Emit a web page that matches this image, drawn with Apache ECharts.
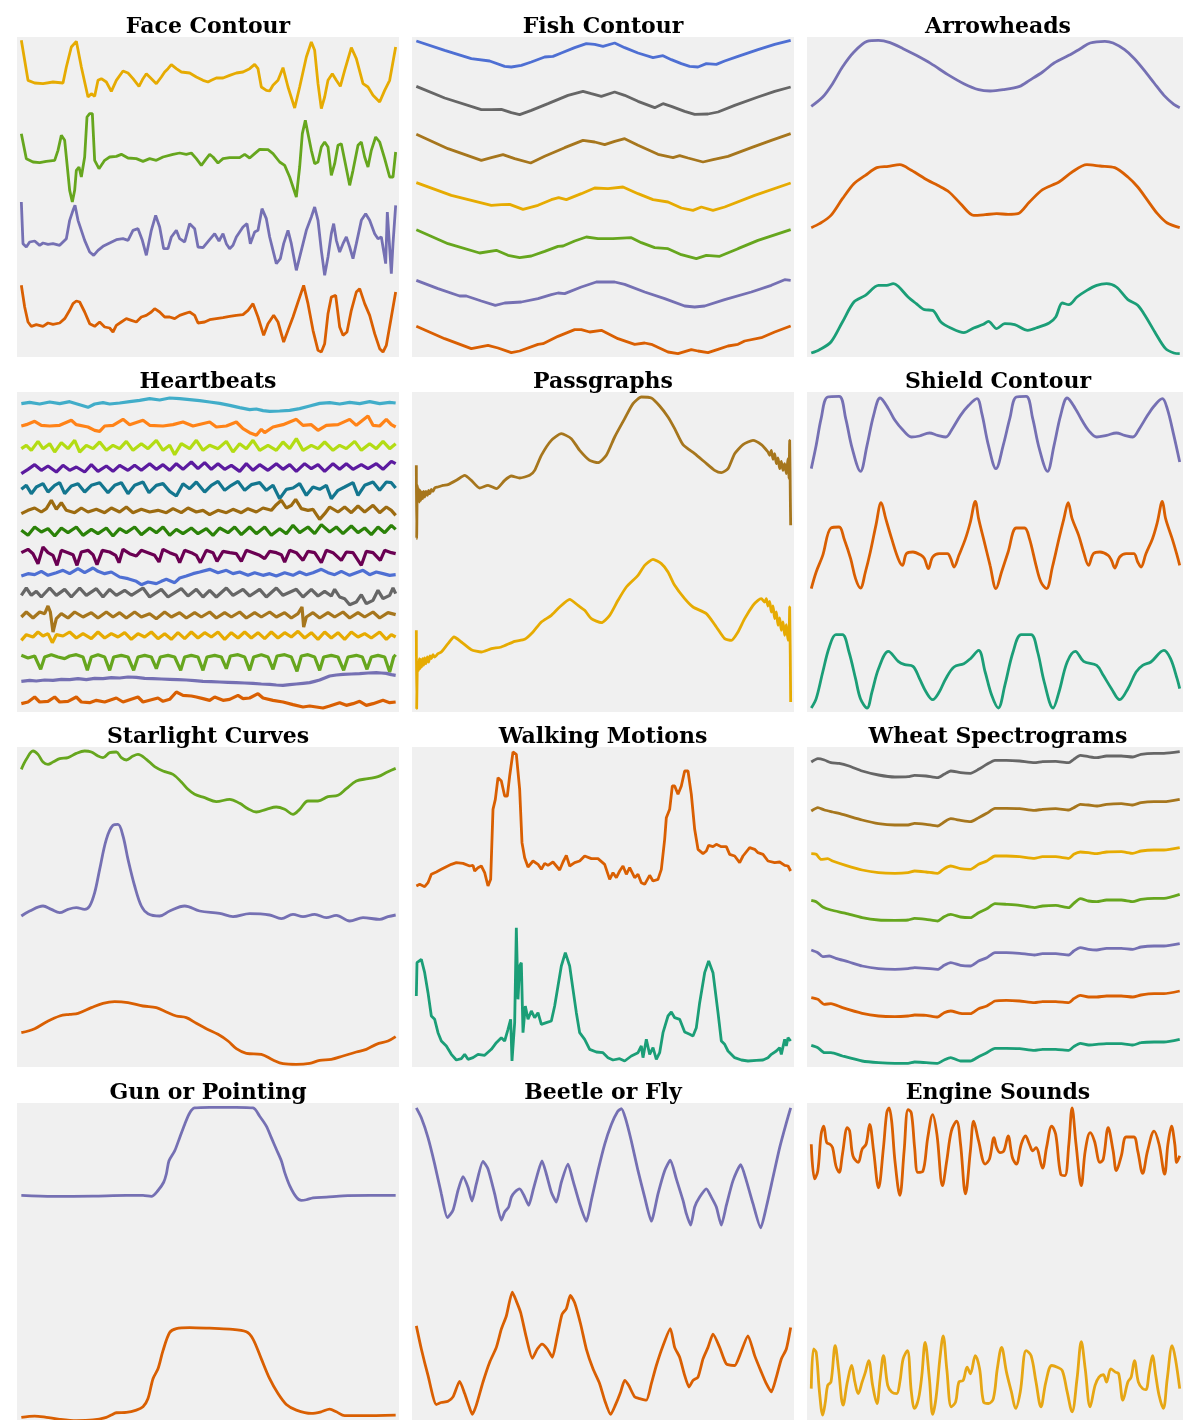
<!DOCTYPE html>
<html>
<head>
<meta charset="utf-8">
<title>Time series datasets</title>
<script src="https://cdn.jsdelivr.net/npm/echarts@6/dist/echarts.min.js"></script>
<style>
  html, body { margin: 0; padding: 0; background: #ffffff; }
  #chart { width: 1183px; height: 1420px; }
</style>
</head>
<body>
<div id="chart"></div>
<script>
// Each series is a list of [t, value] samples. t runs on a shared time scale,
// values are amplitudes on a 0..960 scale per panel (classes stacked with offsets).

// ---- Face Contour ----
const faceA = [[35,950],[55,830],[75,822],[100,820],[130,825],[160,822],[170,870],[185,930],[200,947],[215,870],[235,780],[245,790],[255,782],[265,830],[275,835],[290,825],[305,797],[320,830],[340,858],[355,852],[370,835],[388,812],[400,835],[410,850],[420,840],[440,820],[455,840],[465,855],[475,865],[485,877],[500,865],[515,855],[540,852],[560,840],[580,830],[595,825],[605,830],[620,837],[640,837],[660,845],[680,852],[700,855],[720,865],[735,878],[745,865],[755,810],[770,800],[780,798],[790,815],[805,830],[820,868],[835,810],[855,747],[870,810],[890,900],[905,945],[915,920],[925,820],[935,745],[945,780],[955,830],[968,850],[980,830],[992,812],[1005,860],[1025,928],[1040,895],[1060,820],[1075,810],[1090,785],[1110,765],[1125,800],[1140,830],[1158,930]];
const faceB = [[35,670],[50,595],[70,585],[90,583],[110,587],[135,590],[145,620],[155,665],[165,650],[172,580],[180,500],[188,465],[195,500],[200,560],[208,570],[215,540],[225,600],[232,720],[240,730],[248,730],[255,590],[268,565],[285,590],[300,600],[320,602],[335,608],[355,597],[380,595],[400,587],[420,595],[440,590],[460,600],[490,608],[510,612],[530,608],[545,612],[560,595],[575,575],[590,595],[600,608],[610,600],[625,582],[640,595],[660,598],[690,598],[705,608],[720,597],[735,610],[750,623],[775,622],[790,610],[810,585],[825,575],[840,540],[850,510],[860,480],[870,570],[878,670],[887,710],[895,670],[905,620],[915,580],[925,585],[935,630],[945,645],[955,630],[965,545],[975,580],[985,635],[995,640],[1005,590],[1020,515],[1030,560],[1045,635],[1055,645],[1065,600],[1075,570],[1085,620],[1098,660],[1110,645],[1125,595],[1140,540],[1150,540],[1158,615]];
const faceC = [[35,465],[40,340],[50,330],[60,345],[75,348],[90,335],[100,342],[115,338],[130,340],[150,335],[170,355],[180,410],[190,440],[196,455],[205,410],[215,380],[225,350],[240,315],[252,305],[265,320],[280,332],[300,342],[320,352],[340,355],[355,350],[370,380],[385,385],[398,350],[410,305],[425,380],[438,425],[450,390],[462,325],[475,325],[485,360],[500,380],[510,355],[525,345],[540,400],[555,385],[565,330],[580,328],[598,350],[615,370],[628,348],[640,370],[650,340],[660,325],[670,335],[680,360],[690,375],[700,390],[712,400],[722,340],[735,375],[745,380],[757,445],[770,415],[780,360],[790,320],[800,280],[812,295],[822,340],[835,380],[845,340],[860,260],[875,320],[890,380],[905,420],[915,450],[925,410],[935,320],[945,245],[955,300],[965,370],[972,400],[980,350],[990,315],[1000,340],[1010,360],[1020,330],[1030,295],[1040,340],[1055,410],[1068,430],[1080,410],[1095,370],[1105,355],[1115,360],[1125,300],[1128,280],[1133,435],[1138,435],[1145,250],[1150,340],[1158,455]];
const faceD = [[35,215],[45,150],[55,105],[65,92],[80,97],[100,92],[115,102],[130,98],[150,102],[165,115],[180,140],[190,160],[200,168],[210,165],[225,135],[240,100],[255,92],[270,105],[285,90],[300,87],[310,75],[320,95],[335,105],[350,115],[365,110],[380,105],[395,120],[410,125],[425,135],[435,145],[450,135],[465,120],[480,120],[495,115],[510,125],[525,130],[540,135],[555,125],[565,102],[585,105],[600,112],[620,115],[640,118],[660,122],[680,125],[700,127],[715,140],[730,160],[745,120],[762,65],[775,100],[792,125],[805,105],[822,45],[835,80],[850,120],[865,165],[882,215],[895,160],[910,80],[925,20],[935,15],[945,40],[955,130],[965,180],[978,185],[990,90],[1000,65],[1012,75],[1025,140],[1040,195],[1050,205],[1065,160],[1080,125],[1095,70],[1110,25],[1120,15],[1130,35],[1145,120],[1158,195]];

// ---- Fish Contour ----
const fishA = [[35,948],[120,920],[200,895],[255,888],[300,872],[320,870],[350,875],[380,885],[420,900],[445,902],[470,912],[510,928],[545,940],[570,938],[595,932],[630,942],[660,928],[700,912],[745,898],[775,904],[800,892],[830,880],[855,872],[880,870],[905,880],[935,878],[960,888],[1000,902],[1060,922],[1110,938],[1158,950]];
const fishB = [[35,812],[120,777],[230,742],[260,742],[290,743],[320,733],[345,727],[380,740],[430,760],[490,785],[535,797],[560,790],[590,782],[630,795],[660,785],[700,767],[750,748],[775,760],[800,752],[840,737],[870,728],[910,729],[940,735],[990,755],[1060,780],[1110,797],[1158,810]];
const fishC = [[35,668],[130,625],[230,590],[260,598],[295,607],[330,595],[378,582],[420,602],[480,628],[535,650],[570,645],[600,637],[630,647],[660,655],[700,635],[760,608],[805,598],[825,604],[850,597],[895,585],[925,592],[970,602],[1040,628],[1100,650],[1158,670]];
const fishD = [[35,523],[140,485],[260,455],[290,457],[315,458],[355,443],[400,455],[440,472],[462,478],[485,472],[530,490],[570,507],[610,505],[655,510],[700,490],[745,472],[790,465],[830,447],[865,440],[890,450],[925,440],[960,450],[1050,485],[1158,522]];
const fishE = [[35,382],[130,340],[225,312],[275,320],[310,305],[345,298],[380,303],[420,317],[460,332],[475,333],[510,348],[545,360],[580,355],[625,355],[680,358],[710,343],[750,328],[790,325],[830,307],[875,295],[905,305],[945,302],[1000,325],[1060,350],[1158,382]];
const fishF = [[35,230],[100,205],[165,183],[185,183],[230,168],[272,155],[300,162],[350,165],[400,175],[440,187],[460,192],[480,190],[530,210],[575,225],[630,225],[660,218],[720,195],[780,175],[840,153],[870,150],[900,153],[960,172],[1040,195],[1100,215],[1140,232],[1158,230]];
const fishG = [[35,92],[120,55],[200,25],[250,35],[280,27],[320,13],[345,18],[400,38],[415,40],[460,62],[510,82],[530,82],[555,75],[590,80],[640,55],[690,38],[720,42],[740,38],[790,15],[820,10],[860,22],[880,18],[910,13],[940,23],[970,33],[1000,38],[1020,48],[1070,58],[1110,75],[1158,93]];

// ---- Arrowheads ----
const arrowA = [[35,752],[70,780],[100,820],[130,870],[165,915],[205,947],[240,950],[275,943],[315,925],[355,905],[400,880],[450,848],[500,820],[545,802],[580,798],[620,802],[670,812],[700,830],[740,855],[775,882],[820,905],[855,925],[885,942],[930,947],[955,942],[990,922],[1020,895],[1050,860],[1080,822],[1110,785],[1140,758],[1158,748]];
const arrowB = [[35,388],[60,400],[95,425],[130,475],[165,520],[200,545],[235,568],[270,572],[305,577],[340,560],[390,530],[420,515],[455,495],[490,460],[530,425],[565,427],[600,430],[635,428],[665,430],[700,465],[740,502],[790,525],[830,555],[875,577],[915,573],[960,568],[1000,540],[1030,510],[1060,470],[1090,430],[1120,402],[1158,388]];
const arrowC = [[35,12],[60,22],[95,45],[130,105],[165,165],[200,185],[240,215],[265,215],[285,220],[300,212],[330,180],[355,160],[380,142],[405,140],[430,105],[460,87],[500,73],[530,87],[560,98],[575,107],[600,85],[625,100],[655,97],[695,80],[720,87],[760,102],[780,120],[800,162],[820,157],[845,180],[875,200],[905,215],[935,220],[965,210],[1000,172],[1030,155],[1055,120],[1085,70],[1115,25],[1140,12],[1158,10]];

// ---- Heartbeats ----
const heartA = [[35,925],[60,929],[90,924],[120,930],[150,925],[180,931],[210,922],[235,914],[255,924],[280,928],[300,924],[330,927],[360,931],[390,935],[420,940],[450,936],[480,942],[510,940],[540,937],[570,934],[600,930],[630,926],[660,920],[690,913],[720,907],[740,909],[760,904],[780,902],[810,903],[840,905],[870,910],[900,918],[930,926],[960,928],[990,924],[1020,929],[1050,925],[1080,931],[1110,925],[1140,929],[1158,927]];
const heartB = [[35,858],[50,862],[75,872],[95,860],[120,858],[150,860],[185,875],[200,862],[235,855],[255,845],[270,842],[285,858],[310,860],[340,878],[360,862],[400,875],[420,860],[460,858],[490,862],[520,870],[550,858],[600,870],[620,855],[650,858],[680,870],[700,850],[720,838],[740,830],[755,848],[765,838],[790,855],[820,862],[860,878],[880,860],[905,862],[925,845],[950,860],[985,862],[1020,878],[1040,860],[1075,888],[1090,860],[1110,858],[1130,878],[1145,862],[1158,855]];
const heartC = [[35,790],[50,800],[65,785],[85,812],[100,790],[120,805],[135,780],[155,808],[175,790],[195,815],[210,780],[230,800],[250,790],[270,810],[290,785],[310,800],[330,790],[350,812],[370,785],[395,805],[415,790],[440,815],[460,785],[480,800],[495,772],[515,805],[540,790],[560,815],[580,785],[600,800],[625,790],[650,812],[670,780],[690,805],[710,790],[730,815],[750,785],[775,800],[800,785],[820,810],[840,790],[860,820],[880,785],[905,800],[925,790],[945,810],[970,785],[990,800],[1010,790],[1035,812],[1055,785],[1080,805],[1100,790],[1120,812],[1140,790],[1158,805]];
const heartD = [[35,715],[55,728],[75,742],[95,725],[115,738],[140,720],[160,740],[180,725],[200,735],[225,720],[245,742],[265,722],[290,738],[310,722],[330,740],[355,725],[375,740],[395,725],[420,745],[440,728],[460,742],[480,725],[500,745],[520,728],[545,750],[565,730],[585,748],[605,728],[625,745],[645,728],[665,740],[690,722],[710,745],[730,725],[750,742],[775,725],[800,745],[820,728],[840,742],[860,722],[885,745],[905,730],[925,742],[945,722],[970,745],[990,728],[1010,745],[1030,728],[1055,742],[1075,730],[1100,745],[1120,728],[1145,752],[1158,745]];
const heartE = [[35,668],[50,680],[65,655],[80,675],[100,685],[115,660],[135,680],[150,688],[165,655],[185,678],[205,685],[225,660],[245,680],[270,688],[295,658],[315,680],[335,688],[355,655],[375,680],[400,690],[418,658],[440,680],[460,685],[480,662],[500,648],[520,685],[540,670],[560,690],[585,660],[605,680],[625,692],[645,665],[665,680],[685,692],[705,665],[725,682],[750,688],[770,665],[790,680],[810,640],[830,668],[850,672],[870,685],[890,650],[910,675],[930,668],[950,680],[965,640],[985,665],[1005,675],[1030,688],[1045,650],[1065,680],[1090,690],[1110,665],[1130,690],[1145,688],[1158,672]];
const heartF = [[35,595],[55,605],[75,612],[95,600],[110,610],[125,635],[140,608],[155,628],[170,605],[195,598],[215,612],[235,600],[260,608],[285,598],[305,612],[330,600],[350,615],[370,598],[395,608],[420,600],[445,605],[470,598],[490,610],[515,598],[535,612],[560,600],[580,605],[600,592],[625,605],[650,598],[670,608],[695,598],[715,610],[740,600],[760,612],[785,605],[800,622],[815,635],[830,612],[845,620],[858,638],[875,610],[895,605],[910,608],[930,578],[945,595],[960,615],[985,600],[1005,615],[1025,598],[1045,618],[1065,600],[1090,620],[1110,598],[1130,615],[1145,605],[1158,590]];
const heartG = [[35,545],[55,530],[75,555],[95,540],[115,550],[135,528],[155,552],[175,538],[200,555],[220,530],[245,548],[265,535],[290,552],[310,528],[330,550],[350,538],[375,555],[395,532],[420,552],[440,538],[460,555],[480,530],[500,548],[520,535],[545,552],[565,535],[590,550],[610,530],[630,552],[655,538],[675,555],[695,532],[720,555],[740,535],[765,555],[785,530],[810,550],[830,535],[850,560],[870,538],[895,555],[915,535],[935,562],[960,540],[980,555],[1000,535],[1025,558],[1045,538],[1065,552],[1085,532],[1105,555],[1125,538],[1145,560],[1158,548]];
const heartH = [[35,478],[55,488],[70,475],[85,445],[100,495],[115,478],[130,470],[142,440],[155,485],[175,478],[190,472],[202,440],[215,480],[235,485],[250,472],[262,442],[278,485],[300,480],[318,470],[328,448],[340,488],[360,475],[380,468],[395,485],[415,478],[435,470],[448,450],[460,488],[480,478],[500,470],[510,448],[525,485],[545,478],[560,470],[572,448],[590,485],[610,478],[622,452],[640,482],[660,478],[680,475],[695,452],[710,485],[730,478],[750,470],[765,460],[780,482],[800,478],[815,472],[825,450],[840,485],[860,478],[880,455],[895,482],[915,478],[935,448],[950,485],[970,478],[995,455],[1010,480],[1030,478],[1055,440],[1070,482],[1090,478],[1112,455],[1125,485],[1145,478],[1158,475]];
const heartI = [[35,408],[55,415],[75,412],[95,422],[115,410],[140,418],[160,425],[180,415],[205,430],[225,418],[250,432],[265,422],[285,415],[305,420],[330,405],[355,400],[380,392],[395,382],[415,390],[440,385],[455,392],[470,398],[495,388],[510,402],[530,408],[550,415],[570,420],[600,428],[625,418],[650,425],[670,415],[690,420],[715,410],[735,418],[760,410],[780,415],[800,408],[825,418],[850,410],[870,420],[890,412],[910,418],[935,428],[955,418],[975,412],[995,422],[1020,410],[1040,418],[1060,425],[1080,412],[1100,420],[1120,415],[1140,410],[1158,412]];
const heartJ = [[35,350],[50,372],[65,350],[80,362],[95,345],[120,372],[140,350],[165,368],[185,345],[210,372],[230,350],[260,370],[280,345],[300,368],[320,350],[345,365],[365,350],[400,372],[420,345],[455,368],[475,345],[515,370],[535,348],[560,368],[580,345],[600,365],[620,345],[650,372],[670,350],[700,368],[720,348],[750,368],[770,345],[800,372],[820,350],[860,368],[880,345],[905,368],[925,348],[945,362],[965,348],[975,368],[990,345],[1005,340],[1020,322],[1040,330],[1055,352],[1070,325],[1090,335],[1105,365],[1120,340],[1140,350],[1150,372],[1158,355]];
const heartK = [[35,285],[50,300],[70,282],[90,300],[105,295],[115,318],[122,300],[130,240],[140,280],[155,295],[175,282],[195,300],[220,285],[245,298],[265,282],[290,300],[310,285],[330,298],[350,282],[375,300],[395,285],[420,295],[440,280],[465,300],[485,285],[510,298],[530,282],[555,298],[575,285],[600,300],[620,282],[645,298],[665,285],[690,300],[710,282],[735,298],[755,285],[780,300],[800,285],[825,298],[845,282],[865,295],[877,315],[882,255],[890,285],[910,298],[930,282],[955,298],[975,285],[1000,300],[1020,282],[1045,298],[1065,285],[1090,300],[1110,282],[1135,298],[1158,292]];
const heartL = [[35,215],[50,232],[70,225],[85,240],[100,228],[115,235],[128,208],[140,232],[160,228],[180,240],[200,222],[220,235],[245,220],[265,240],[285,222],[305,235],[325,225],[345,238],[365,218],[385,235],[405,225],[425,240],[445,220],[465,235],[485,218],[505,238],[525,220],[545,240],[565,222],[585,238],[605,225],[625,240],[645,218],[665,238],[685,222],[705,240],[725,222],[745,238],[765,220],[785,240],[805,222],[825,238],[845,225],[865,242],[885,222],[905,238],[925,218],[945,240],[965,222],[985,238],[1005,218],[1025,240],[1045,225],[1065,235],[1085,222],[1110,240],[1130,218],[1145,232],[1158,225]];
const heartM = [[35,170],[55,162],[75,168],[93,128],[105,165],[125,172],[145,165],[165,160],[180,168],[200,172],[220,165],[233,125],[245,165],[265,172],[285,165],[300,125],[312,165],[335,170],[355,165],[372,125],[385,165],[405,170],[425,165],[440,130],[452,165],[475,170],[495,165],[513,125],[525,165],[545,170],[565,165],[580,125],[592,165],[615,170],[635,165],[650,130],[662,168],[685,172],[705,165],[720,125],[732,165],[755,172],[775,165],[790,128],[802,168],[825,172],[845,165],[862,122],[875,168],[895,172],[915,165],[930,125],[942,165],[965,170],[985,165],[1002,125],[1015,165],[1040,170],[1058,165],[1072,128],[1085,165],[1105,170],[1125,165],[1140,120],[1152,165],[1158,172]];
const heartN = [[35,92],[60,95],[80,93],[105,96],[130,95],[155,98],[180,97],[205,100],[230,97],[255,101],[280,100],[305,103],[330,102],[355,105],[380,104],[405,101],[430,100],[455,99],[480,98],[505,97],[530,96],[555,94],[580,92],[605,91],[630,90],[655,89],[680,88],[705,87],[730,86],[755,84],[780,83],[800,81],[820,80],[840,82],[860,84],[880,86],[900,88],[915,92],[930,96],[945,102],[960,108],[980,111],[1000,113],[1025,114],[1050,115],[1075,117],[1100,118],[1115,117],[1130,116],[1145,112],[1158,110]];
const heartO = [[35,25],[55,30],[75,45],[90,30],[115,32],[135,45],[150,30],[175,32],[200,45],[215,30],[240,28],[260,35],[285,30],[320,42],[340,30],[385,45],[400,30],[445,42],[460,32],[480,38],[500,60],[520,50],[545,48],[560,45],[580,40],[600,35],[615,45],[640,35],[660,38],[685,50],[700,40],[720,42],[745,55],[760,42],[790,35],[820,30],[850,22],[880,15],[900,18],[920,15],[940,12],[960,18],[990,28],[1010,20],[1030,25],[1050,32],[1070,20],[1090,25],[1120,35],[1140,28],[1158,30]];

// ---- Passgraphs ----
const passA = [[35,740],[36,520],[38,680],[40,640],[42,670],[44,630],[46,665],[48,635],[51,660],[54,640],[57,662],[60,645],[64,662],[68,650],[72,665],[76,655],[80,668],[85,662],[90,672],[100,675],[115,680],[130,682],[155,695],[180,710],[200,695],[225,672],[250,680],[275,670],[300,695],[320,708],[345,702],[375,710],[390,725],[410,770],[440,815],[470,835],[500,820],[525,785],[555,755],[580,748],[605,770],[630,825],[660,880],[685,925],[710,945],[740,942],[765,918],[790,885],[810,850],[835,802],[870,775],[900,750],[930,725],[950,718],[970,730],[990,775],[1015,802],[1045,815],[1070,802],[1090,780],[1095,770],[1100,785],[1105,758],[1110,775],[1115,745],[1120,762],[1125,730],[1130,752],[1135,725],[1140,745],[1145,715],[1150,760],[1153,700],[1155,815],[1157,640],[1158,560]];
const passB = [[35,245],[36,10],[38,140],[40,150],[42,125],[44,160],[46,130],[48,158],[51,135],[54,160],[57,140],[60,162],[64,145],[68,165],[72,150],[76,168],[80,160],[85,172],[90,165],[100,175],[110,180],[130,205],[148,225],[170,210],[200,187],[230,180],[260,190],[290,195],[330,212],[360,218],[385,240],[410,270],[440,290],[465,315],[495,338],[520,320],[540,305],[560,280],[590,268],[615,290],[640,335],[665,375],[700,410],[720,440],[745,458],[770,445],[790,420],[810,380],[840,340],[865,315],[905,295],[935,255],[960,220],[980,215],[1000,240],[1020,280],[1045,320],[1060,335],[1070,340],[1080,330],[1085,340],[1090,318],[1095,332],[1100,300],[1105,318],[1110,280],[1115,300],[1120,260],[1125,282],[1130,245],[1135,270],[1140,230],[1145,262],[1150,215],[1153,225],[1155,315],[1158,30]];

// ---- Shield Contour ----
const shieldA = [[35,730],[50,800],[65,880],[85,945],[120,947],[140,880],[160,790],[185,722],[205,800],[225,890],[245,942],[270,910],[290,875],[315,845],[340,825],[365,828],[395,837],[420,830],[445,825],[465,850],[490,890],[515,920],[540,940],[555,895],[575,800],[598,730],[620,800],[640,880],[660,945],[690,947],[710,880],[730,790],[755,722],[775,800],[795,890],[815,942],[840,910],[860,875],[880,845],[905,825],[935,830],[965,837],[990,830],[1015,825],[1035,850],[1060,890],[1080,918],[1105,940],[1120,910],[1140,830],[1158,750]];
const shieldB = [[35,370],[50,420],[70,470],[95,552],[120,555],[135,520],[155,460],[170,400],[185,372],[200,420],[215,480],[232,560],[248,628],[262,580],[280,520],[300,460],[313,440],[325,475],[345,480],[370,470],[380,460],[392,430],[405,465],[425,475],[450,475],[460,460],[470,435],[485,470],[505,520],[520,570],[535,632],[545,580],[560,520],[580,440],[598,370],[615,420],[635,480],[660,552],[685,552],[700,520],[720,440],[735,390],[752,370],[770,435],[790,520],[805,580],[818,628],[830,580],[850,530],[865,480],[880,440],[895,475],[915,480],[940,470],[950,455],[960,432],[975,465],[995,475],[1018,475],[1030,450],[1040,435],[1055,475],[1075,520],[1090,570],[1105,632],[1115,580],[1135,520],[1150,470],[1158,440]];
const shieldC = [[35,12],[50,40],[70,120],[90,195],[110,232],[130,232],[150,180],[170,100],[185,40],[205,12],[220,60],[240,130],[270,182],[300,152],[320,142],[345,137],[365,100],[385,60],[405,37],[425,60],[445,100],[470,135],[500,145],[520,160],[545,185],[565,120],[585,50],[605,12],[625,80],[650,180],[675,232],[705,232],[725,180],[745,90],[772,12],[790,60],[815,150],[840,182],[865,152],[905,140],[925,110],[950,70],[975,37],[1000,70],[1025,120],[1045,140],[1070,150],[1110,185],[1130,160],[1150,100],[1158,70]];

// ---- Starlight Curves ----
const starA = [[35,893],[50,923],[70,948],[85,938],[100,915],[115,908],[130,915],[150,925],[175,928],[200,941],[225,948],[245,945],[265,933],[280,928],[300,943],[320,945],[335,928],[350,921],[370,933],[385,938],[410,923],[435,901],[460,888],[490,878],[515,855],[535,833],[555,818],[585,808],[620,796],[660,803],[690,791],[715,775],[740,765],[770,773],[800,780],[825,773],[850,758],[870,773],[895,798],[925,798],[955,811],[985,815],[1010,835],[1040,858],[1075,865],[1105,871],[1135,886],[1158,896]];
const starB = [[35,453],[60,468],[100,483],[125,473],[150,463],[175,473],[200,478],[225,473],[240,483],[255,523],[270,593],[290,683],[310,725],[325,728],[340,693],[355,623],[375,543],[395,483],[415,460],[450,453],[480,468],[525,483],[570,468],[630,461],[670,451],[720,460],[780,456],[815,445],[850,458],[880,451],[915,458],[950,448],[980,455],[1020,438],[1060,448],[1110,443],[1135,451],[1158,456]];
const starC = [[35,103],[75,115],[110,135],[150,153],[180,158],[205,161],[245,178],[280,191],[315,196],[355,193],[400,183],[440,178],[470,165],[500,153],[530,148],[560,131],[590,115],[625,98],[655,78],[680,55],[710,41],[755,38],[790,21],[820,10],[860,8],[900,11],[930,20],[965,23],[1000,33],[1040,45],[1070,53],[1100,68],[1135,78],[1158,91]];

// ---- Walking Motions ----
const walkA = [[35,543],[45,548],[60,541],[70,553],[80,578],[95,585],[110,593],[125,601],[140,608],[155,613],[175,611],[195,603],[205,605],[210,588],[220,598],[230,603],[240,583],[250,543],[258,563],[265,773],[272,803],[280,868],[290,858],[300,813],[308,813],[315,873],[325,945],[335,938],[345,833],[352,673],[360,628],[370,600],[385,618],[400,608],[410,593],[420,611],[430,605],[445,615],[465,591],[475,615],[485,635],[495,603],[510,613],[525,618],[540,633],[560,625],[580,625],[600,608],[615,563],[625,583],[635,568],[645,588],[655,603],[665,578],[675,598],[690,568],[700,578],[710,553],[720,548],[735,575],[745,558],[760,563],[770,593],[780,683],[785,748],[795,773],[803,843],[810,843],[820,818],[830,843],[840,888],[850,888],[860,818],[870,713],[880,653],[895,640],[905,648],[912,665],[925,661],[935,668],[950,661],[965,661],[975,638],[990,633],[1005,613],[1015,633],[1035,658],[1050,653],[1060,643],[1075,638],[1090,618],[1110,613],[1125,615],[1140,605],[1150,603],[1158,588]];
const walkB = [[35,213],[37,313],[50,323],[60,283],[70,223],[80,153],[90,143],[100,103],[110,78],[125,63],[140,38],[155,21],[170,25],[180,38],[190,23],[205,28],[220,38],[240,35],[260,53],[275,73],[290,88],[300,78],[310,113],[318,143],[322,18],[330,133],[335,418],[340,203],[345,303],[350,313],[355,103],[362,183],[370,143],[380,168],[390,148],[400,163],[410,128],[425,133],[440,138],[450,183],[460,243],[470,303],[482,343],[495,303],[505,233],[515,163],[525,103],[540,83],[555,53],[575,45],[595,43],[610,28],[625,21],[645,25],[660,18],[680,33],[700,43],[710,63],[715,28],[725,83],[735,38],[745,58],[755,23],[765,43],[775,103],[790,153],[800,165],[810,148],[825,143],[840,105],[855,98],[865,93],[875,118],[885,193],[900,283],[912,318],[925,283],[940,163],[950,78],[960,68],[970,48],[990,28],[1010,21],[1030,18],[1055,20],[1075,21],[1090,28],[1100,38],[1115,48],[1125,58],[1130,38],[1140,83],[1145,63],[1150,88],[1158,78]];

// ---- Wheat Spectrograms ----
const wheatA = [[35,915],[55,925],[75,921],[95,913],[120,911],[150,903],[190,888],[240,876],[290,870],[330,871],[350,875],[385,873],[420,868],[440,878],[460,888],[490,883],[520,881],[545,893],[570,908],[595,920],[630,920],[670,918],[715,913],[740,916],[780,917],[820,913],[835,923],[855,935],[880,931],[905,928],[935,933],[980,933],[1015,930],[1040,938],[1080,941],[1110,941],[1158,946]];
const wheatB = [[35,768],[55,778],[75,771],[100,765],[130,758],[190,741],[240,730],[290,726],[330,726],[350,731],[385,728],[420,723],[440,735],[460,745],[490,740],[520,736],[545,748],[570,761],[595,776],[630,776],[670,775],[715,770],[740,773],[780,775],[820,771],[835,778],[855,788],[880,786],[905,783],[935,788],[980,790],[1015,786],[1040,793],[1080,796],[1110,796],[1158,803]];
const wheatC = [[35,640],[50,638],[65,623],[85,625],[100,618],[140,605],[190,591],[240,583],[290,581],[330,583],[350,588],[385,585],[420,581],[440,595],[460,603],[490,595],[520,593],[545,608],[570,618],[595,633],[630,633],[670,631],[715,626],[740,631],[780,631],[820,626],[835,638],[855,645],[880,643],[905,640],[935,645],[980,646],[1015,641],[1040,648],[1080,651],[1110,651],[1158,658]];
const wheatD = [[35,500],[50,496],[70,480],[95,471],[140,461],[190,448],[240,441],[290,440],[330,441],[350,446],[385,443],[420,438],[440,451],[460,458],[490,450],[520,448],[545,463],[570,475],[595,490],[630,488],[670,485],[715,478],[740,483],[780,485],[820,478],[835,491],[855,505],[880,498],[905,496],[935,501],[980,501],[1015,496],[1040,503],[1080,506],[1110,506],[1158,518]];
const wheatE = [[35,351],[55,343],[70,331],[90,333],[110,326],[150,315],[190,303],[240,295],[290,293],[330,295],[350,298],[385,296],[420,293],[440,305],[460,313],[490,305],[520,303],[545,318],[570,328],[595,343],[630,343],[670,341],[715,336],[740,340],[780,340],[820,336],[835,348],[855,358],[880,353],[905,351],[935,356],[980,356],[1015,353],[1040,360],[1080,363],[1110,363],[1158,370]];
const wheatF = [[35,208],[55,203],[75,188],[95,190],[130,178],[190,161],[240,153],[290,151],[330,153],[350,156],[385,155],[420,150],[440,163],[460,168],[490,161],[520,160],[545,175],[570,183],[595,198],[630,200],[670,198],[715,193],[740,196],[780,196],[820,193],[835,205],[855,215],[880,210],[905,210],[935,213],[980,213],[1015,210],[1040,216],[1080,220],[1110,220],[1158,228]];
const wheatG = [[35,65],[55,58],[75,43],[95,43],[130,33],[190,18],[240,13],[290,11],[330,11],[350,15],[385,13],[420,11],[440,21],[460,28],[490,18],[520,18],[545,31],[570,43],[595,56],[630,56],[670,55],[715,50],[740,53],[780,53],[820,50],[835,61],[855,71],[880,66],[905,68],[935,70],[980,70],[1015,66],[1040,73],[1080,75],[1110,75],[1158,83]];

// ---- Gun or Pointing ----
const gunA = [[35,680],[130,677],[250,678],[350,680],[400,680],[425,677],[445,695],[462,720],[470,745],[478,785],[495,815],[510,855],[525,895],[540,930],[555,945],[600,947],[680,947],[730,945],[750,920],[770,890],[785,855],[800,820],[815,785],[825,750],[840,710],[860,675],[875,665],[890,667],[910,673],[950,675],[1000,679],[1080,680],[1158,680]];
const gunB = [[35,8],[75,12],[110,8],[150,2],[200,-2],[250,0],[290,8],[305,15],[320,22],[350,23],[380,30],[400,40],[415,65],[430,125],[445,155],[460,210],[480,265],[500,277],[540,280],[600,278],[660,275],[710,267],[730,245],[755,185],[780,125],[805,80],[830,47],[860,30],[905,20],[935,25],[960,33],[980,25],[1005,13],[1060,13],[1158,15]];

// ---- Beetle or Fly ----
const beetleA = [[35,945],[50,915],[70,855],[90,775],[110,685],[128,613],[145,635],[160,695],[175,737],[190,705],[202,663],[215,715],[235,783],[250,760],[270,685],[290,605],[300,630],[312,645],[320,675],[330,690],[345,700],[358,680],[372,650],[385,695],[400,750],[412,785],[425,745],[440,690],[455,660],[470,720],[490,775],[505,725],[525,655],[545,602],[560,665],[580,755],[600,835],[620,895],[638,933],[650,943],[662,915],[680,845],[700,755],[720,675],[740,602],[760,685],[780,755],[797,787],[815,730],[835,665],[845,625],[858,590],[870,645],[885,675],[905,700],[920,675],[935,645],[950,590],[965,650],[985,725],[1008,773],[1025,725],[1045,655],[1068,582],[1085,645],[1105,735],[1125,825],[1145,900],[1158,945]];
const beetleB = [[35,285],[50,215],[70,135],[95,47],[110,53],[130,57],[145,70],[165,117],[180,80],[192,45],[203,17],[215,45],[235,115],[255,175],[275,220],[290,275],[305,315],[323,387],[335,360],[348,325],[365,250],[383,187],[398,215],[412,230],[428,215],[443,190],[458,255],[472,320],[485,337],[497,377],[510,355],[528,290],[545,215],[565,155],[585,110],[600,60],[618,17],[632,45],[648,85],[660,120],[672,105],[690,70],[705,65],[725,60],[740,110],[755,165],[775,225],[797,277],[810,220],[825,190],[840,135],[853,100],[865,120],[880,130],[895,185],[910,220],[925,260],[945,220],[965,170],[990,165],[1005,195],[1030,255],[1050,195],[1070,145],[1085,110],[1100,85],[1115,130],[1130,185],[1145,215],[1158,280]];

// ---- Engine Sounds ----
const engineA = [[35,835],[45,730],[55,755],[65,865],[73,890],[82,840],[92,835],[100,825],[110,770],[120,750],[130,805],[145,885],[152,875],[162,800],[178,780],[190,820],[202,835],[213,895],[225,815],[240,703],[255,825],[265,930],[272,945],[280,905],[290,785],[305,680],[318,815],[330,940],[340,930],[350,825],[360,750],[375,753],[390,855],[405,925],[418,865],[435,710],[448,785],[462,875],[478,905],[490,835],[505,685],[520,815],[530,905],[545,845],[565,775],[578,790],[592,855],[600,825],[610,810],[622,815],[635,860],[648,795],[660,775],[675,835],[688,860],[700,835],[710,815],[720,825],[740,763],[752,825],[768,890],[780,865],[795,745],[808,740],[820,835],[830,945],[842,835],[858,710],[870,815],[885,870],[898,845],[915,780],[925,790],[940,885],[955,815],[965,755],[980,800],[995,857],[1018,857],[1030,815],[1045,747],[1060,815],[1080,875],[1095,835],[1112,745],[1122,835],[1133,890],[1143,835],[1149,780],[1158,800]];
const engineB = [[35,95],[42,215],[50,205],[60,85],[70,15],[78,55],[85,105],[95,115],[108,225],[118,155],[132,45],[145,115],[158,165],[168,115],[178,80],[190,115],[200,145],[210,180],[222,105],[235,50],[245,125],[255,195],[268,105],[280,85],[295,80],[305,115],[315,185],[328,210],[340,85],[350,35],[362,65],[372,135],[382,235],[395,125],[405,17],[415,65],[428,195],[437,255],[448,155],[462,40],[475,55],[485,115],[498,120],[510,160],[520,140],[535,195],[548,155],[560,55],[575,50],[590,65],[602,155],[615,220],[630,145],[645,85],[658,35],[672,85],[690,210],[705,195],[720,115],[735,40],[750,115],[768,165],[785,160],[800,150],[815,85],[830,25],[845,125],[858,237],[870,155],[885,40],[900,105],[912,130],[925,137],[935,115],[948,155],[962,145],[972,140],[985,60],[1000,115],[1010,130],[1020,180],[1032,115],[1045,95],[1055,92],[1065,145],[1075,195],[1085,135],[1095,75],[1108,35],[1120,125],[1135,225],[1145,185],[1158,95]];

// Panel titles, in reading order
const panelTitles = ['Face Contour', 'Fish Contour', 'Arrowheads',
  'Heartbeats', 'Passgraphs', 'Shield Contour',
  'Starlight Curves', 'Walking Motions', 'Wheat Spectrograms',
  'Gun or Pointing', 'Beetle or Fly', 'Engine Sounds'];

// Palette
const C = {
  teal: '#1b9e77', orange: '#d95f02', purple: '#7570b3', green: '#66a61e',
  yellow: '#e6ab02', brown: '#a6761d', gray: '#666666', blue: '#4e6fd3'
};

// Series of each panel (top class first) with its colour, curve smoothing and stroke width
const panels = [
  { smooth: 0, width: 2.8, lines: [[faceA, C.yellow], [faceB, C.green], [faceC, C.purple], [faceD, C.orange]] },
  { smooth: 0, width: 2.8, lines: [[fishA, C.blue], [fishB, C.gray], [fishC, C.brown], [fishD, C.yellow], [fishE, C.green], [fishF, C.purple], [fishG, C.orange]] },
  { smooth: 0.3, width: 2.8, lines: [[arrowA, C.purple], [arrowB, C.orange], [arrowC, C.teal]] },
  { smooth: 0, width: 3.2, lines: [[heartA, '#41adc9'], [heartB, '#ff8318'], [heartC, '#b3dc14'], [heartD, '#5b1a9f'], [heartE, '#13768f'], [heartF, '#9c6b10'], [heartG, '#2b8208'], [heartH, '#6a0052'], [heartI, C.blue], [heartJ, C.gray], [heartK, C.brown], [heartL, C.yellow], [heartM, C.green], [heartN, C.purple], [heartO, C.orange]] },
  { smooth: 0.2, width: 2.8, lines: [[passA, C.brown], [passB, C.yellow]] },
  { smooth: 0.35, width: 2.8, lines: [[shieldA, C.purple], [shieldB, C.orange], [shieldC, C.teal]] },
  { smooth: 0.35, width: 2.8, lines: [[starA, C.green], [starB, C.purple], [starC, C.orange]] },
  { smooth: 0, width: 2.8, lines: [[walkA, C.orange], [walkB, C.teal]] },
  { smooth: 0.2, width: 2.8, lines: [[wheatA, C.gray], [wheatB, C.brown], [wheatC, C.yellow], [wheatD, C.green], [wheatE, C.purple], [wheatF, C.orange], [wheatG, C.teal]] },
  { smooth: 0.3, width: 2.8, lines: [[gunA, C.purple], [gunB, C.orange]] },
  { smooth: 0.2, width: 2.8, lines: [[beetleA, C.purple], [beetleB, C.orange]] },
  { smooth: 0.35, width: 2.8, lines: [[engineA, C.orange], [engineB, '#e6a614']] }
];

// Layout of the 3 x 4 grid of panels
const colLeft = [17, 412, 807];
const rowTop = [37, 392, 747, 1103];
const panelW = 382, panelH = 320;

const grids = [], xAxes = [], yAxes = [], titles = [], series = [];
panels.forEach((p, i) => {
  const r = Math.floor(i / 3), c = i % 3;
  grids.push({
    left: colLeft[c], top: rowTop[r], width: panelW, height: panelH,
    show: true, backgroundColor: '#f0f0f0', borderWidth: 0, containLabel: false
  });
  xAxes.push({ gridIndex: i, type: 'value', min: 22, max: 1168, show: false });
  yAxes.push({ gridIndex: i, type: 'value', min: 0, max: 960, show: false });
  titles.push({
    text: panelTitles[i], left: colLeft[c] + panelW / 2, top: rowTop[r] - 10,
    textAlign: 'center', textVerticalAlign: 'middle', padding: 0,
    textStyle: { fontFamily: 'DejaVu Serif', fontWeight: 'bold', fontSize: 22, color: '#000000' }
  });
  p.lines.forEach(([data, color]) => {
    series.push({
      type: 'line', xAxisIndex: i, yAxisIndex: i, data: data,
      showSymbol: false, smooth: p.smooth, clip: true, silent: true,
      lineStyle: { color: color, width: p.width }, itemStyle: { color: color }
    });
  });
});

const chart = echarts.init(document.getElementById('chart'), null, { renderer: 'canvas' });
chart.setOption({
  backgroundColor: '#ffffff',
  animation: false,
  title: titles,
  grid: grids,
  xAxis: xAxes,
  yAxis: yAxes,
  series: series
});
</script>
</body>
</html>
